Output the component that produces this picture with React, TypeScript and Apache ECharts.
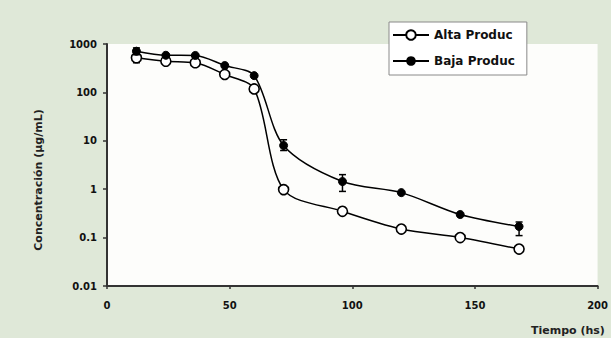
import React, { useEffect, useRef } from "react";
import * as echarts from "echarts";

const hours = [12, 24, 36, 48, 60, 72, 96, 120, 144, 168];
const altaValues = [520, 440, 410, 235, 118, 0.98, 0.35, 0.15, 0.1, 0.058];
const bajaValues = [710, 585, 580, 359, 222, 8.0, 1.44, 0.85, 0.3, 0.17];
// error bars: [x, low, high]
const altaErrors = [[12, 410, 660]];
const bajaErrors = [
  [12, 600, 830],
  [72, 6.3, 10.5],
  [96, 0.9, 2.0],
  [168, 0.11, 0.21],
];
const xTicks = [0, 50, 100, 150, 200];
const seriesNames = ["Alta Produc", "Baja Produc"];
const yTitle = "Concentración (µg/mL)";
const xTitle = "Tiempo (hs)";

const FONT = "DejaVu Sans";

export default function App() {
  const ref = useRef<HTMLDivElement>(null);
  useEffect(() => {
    if (!ref.current) return;
    const chart = echarts.init(ref.current, null, { renderer: "svg" });
    const errRender = (params: any, api: any) => {
      const x = api.value(0);
      const p1 = api.coord([x, api.value(1)]);
      const p2 = api.coord([x, api.value(2)]);
      const w = 3.5;
      const st = { stroke: "#000", lineWidth: 1.5 };
      return {
        type: "group",
        children: [
          { type: "line", shape: { x1: p1[0], y1: p1[1], x2: p2[0], y2: p2[1] }, style: st },
          { type: "line", shape: { x1: p1[0] - w, y1: p1[1], x2: p1[0] + w, y2: p1[1] }, style: st },
          { type: "line", shape: { x1: p2[0] - w, y1: p2[1], x2: p2[0] + w, y2: p2[1] }, style: st },
        ],
      };
    };
    chart.setOption({
      animation: false,
      backgroundColor: "#dfe8d8",
      aria: { enabled: false, decal: { show: false } },
      grid: {
        left: 107,
        right: 8,
        top: 44,
        bottom: 52,
        show: true,
        backgroundColor: "#fdfdfb",
        borderWidth: 0,
      },
      legend: {
        orient: "vertical",
        left: 389,
        top: 22,
        padding: [7, 12, 8, 3],
        itemGap: 14,
        itemWidth: 36,
        itemHeight: 12,
        backgroundColor: "#ffffff",
        borderColor: "#8a8a8a",
        borderWidth: 1,
        borderRadius: 0,
        data: seriesNames,
        textStyle: { fontFamily: FONT, fontWeight: "bold", fontSize: 12, color: "#111" },
      },
      xAxis: {
        type: "value",
        min: 0,
        max: 200,
        interval: 50,
        splitLine: { show: false },
        axisLine: { onZero: false, lineStyle: { color: "#333", width: 2 } },
        axisTick: { show: true, length: 3, lineStyle: { color: "#333", width: 1.5 } },
        axisLabel: {
          margin: 14,
          fontFamily: FONT,
          fontWeight: "bold",
          fontSize: 10,
          color: "#111",
          customValues: xTicks,
        },
      },
      yAxis: {
        type: "log",
        logBase: 10,
        min: 0.01,
        max: 1000,
        splitLine: { show: false },
        axisLine: { show: true, lineStyle: { color: "#333", width: 2 } },
        axisTick: { show: true, length: 4, lineStyle: { color: "#333", width: 1.5 } },
        axisLabel: {
          margin: 10,
          fontFamily: FONT,
          fontWeight: "bold",
          fontSize: 10,
          color: "#111",
          formatter: (v: number) => String(parseFloat(v.toPrecision(3))),
        },
      },
      graphic: [
        {
          type: "text",
          x: 38,
          y: 180,
          rotation: Math.PI / 2,
          style: {
            text: yTitle,
            fontFamily: FONT,
            fontWeight: "bold",
            fontSize: 11,
            fill: "#222",
            align: "center",
            verticalAlign: "middle",
          },
        },
        {
          type: "text",
          x: 531,
          y: 330,
          style: {
            text: xTitle,
            fontFamily: FONT,
            fontWeight: "bold",
            fontSize: 11,
            fill: "#222",
            align: "left",
            verticalAlign: "middle",
          },
        },
      ],
      series: [
        {
          name: seriesNames[0],
          type: "line",
          smooth: 0.3,
          data: hours.map((h, i) => [h, altaValues[i]]),
          symbol: "circle",
          symbolSize: 10,
          showSymbol: true,
          color: "#000",
          lineStyle: { color: "#000", width: 1.5, type: "solid" },
          itemStyle: { color: "#ffffff", borderColor: "#000", borderWidth: 1.6 },
          z: 3,
        },
        {
          name: seriesNames[1],
          type: "line",
          smooth: 0.3,
          data: hours.map((h, i) => [h, bajaValues[i]]),
          symbol: "circle",
          symbolSize: 8,
          showSymbol: true,
          color: "#000",
          lineStyle: { color: "#000", width: 1.5, type: "solid" },
          itemStyle: { color: "#000", borderColor: "#000" },
          z: 4,
        },
        {
          type: "custom",
          renderItem: errRender,
          data: altaErrors,
          encode: { x: 0, y: [1, 2] },
          z: 2,
        },
        {
          type: "custom",
          renderItem: errRender,
          data: bajaErrors,
          encode: { x: 0, y: [1, 2] },
          z: 5,
        },
      ],
    });
    return () => chart.dispose();
  }, []);
  return (
    <div
      ref={ref}
      style={{ position: "fixed", left: 0, top: 0, width: 611, height: 338 }}
    />
  );
}
